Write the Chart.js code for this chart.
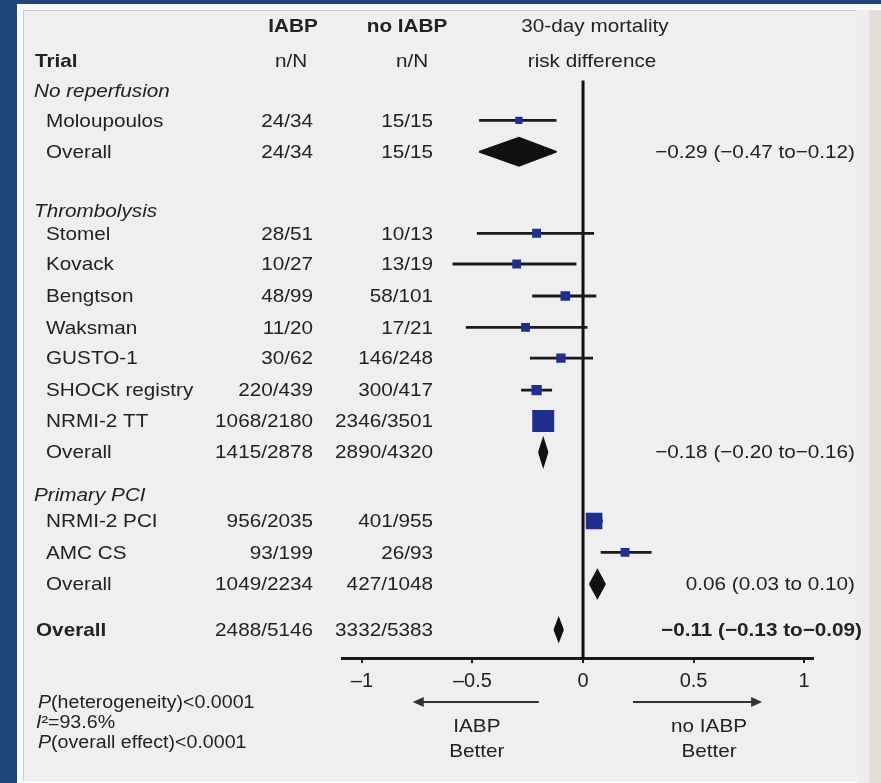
<!DOCTYPE html>
<html>
<head>
<meta charset="utf-8">
<script src="https://cdn.jsdelivr.net/npm/chart.js@4.4.1/dist/chart.umd.min.js"></script>
<style>
  body { margin: 0; background: #1f4677; }
  #frame { position: absolute; left: 17px; top: 4px; width: 864px; height: 779px; background: #fbfbfb; }
  #panel { position: absolute; left: 23px; top: 10px; width: 835px; height: 771px; background: #efefef;
           border-left: 1px solid #c6cbd4; border-top: 1px solid #c6cbd4; box-sizing: border-box; }
  #edge { position: absolute; left: 857px; top: 10px; width: 24px; height: 773px;
          background: linear-gradient(to right, #efedf0 0px, #f1ecef 12px, #e2dfd7 13px, #e2dfd7 24px); }
  #c { position: absolute; left: 0; top: 0; }
</style>
</head>
<body>
<div id="frame"></div>
<div id="panel"></div>
<div id="edge"></div>
<canvas id="c" width="881" height="783"></canvas>
<script>
// rows of the forest plot
const rowLabels = ['No reperfusion', 'Moloupoulos', 'Overall',
  'Thrombolysis', 'Stomel', 'Kovack', 'Bengtson', 'Waksman', 'GUSTO-1', 'SHOCK registry', 'NRMI-2 TT', 'Overall',
  'Primary PCI', 'NRMI-2 PCI', 'AMC CS', 'Overall', 'Overall'];
const rowType = ['group', 'trial', 'sub',
  'group', 'trial', 'trial', 'trial', 'trial', 'trial', 'trial', 'trial', 'sub',
  'group', 'trial', 'trial', 'sub', 'total'];
const iabpEvents = ['', '24/34', '24/34',
  '', '28/51', '10/27', '48/99', '11/20', '30/62', '220/439', '1068/2180', '1415/2878',
  '', '956/2035', '93/199', '1049/2234', '2488/5146'];
const controlEvents = ['', '15/15', '15/15',
  '', '10/13', '13/19', '58/101', '17/21', '146/248', '300/417', '2346/3501', '2890/4320',
  '', '401/955', '26/93', '427/1048', '3332/5383'];
const riskDiff = [null, -0.29, -0.29,
  null, -0.21, -0.30, -0.08, -0.26, -0.10, -0.21, -0.18, -0.18,
  null, 0.05, 0.19, 0.065, -0.11];
const ciLow = [null, -0.47, -0.47,
  null, -0.48, -0.59, -0.23, -0.53, -0.24, -0.28, -0.20, -0.20,
  null, 0.02, 0.08, 0.03, -0.13];
const ciHigh = [null, -0.12, -0.12,
  null, 0.05, -0.03, 0.06, 0.02, 0.045, -0.14, -0.15, -0.16,
  null, 0.09, 0.31, 0.10, -0.09];
const weights = [null, 1.1, null,
  null, 1.7, 1.7, 2.0, 1.7, 1.9, 2.3, 10.5, null,
  null, 6.0, 1.7, null, null];
const effectText = ['', '', '\u22120.29 (\u22120.47 to\u22120.12)',
  '', '', '', '', '', '', '', '', '\u22120.18 (\u22120.20 to\u22120.16)',
  '', '', '', '0.06 (0.03 to 0.10)', '\u22120.11 (\u22120.13 to\u22120.09)'];
const tickValues = [-1, -0.5, 0, 0.5, 1];
const tickLabels = ['\u20131', '\u20130.5', '0', '0.5', '1'];

// layout: vertical slot of each row (row units)
const rowY = [0.05, 1, 2, 3.87, 4.6, 5.58, 6.6, 7.6, 8.58, 9.6, 10.58, 11.58, 12.94, 13.77, 14.77, 15.78, 17.24];

const FONT = '"Liberation Sans", Arial, sans-serif';
const INK = '#222';
const STRETCH = 1.09;

const trialIdx = rowType.map((t, i) => t === 'trial' ? i : -1).filter(i => i >= 0);
const summaryIdx = rowType.map((t, i) => (t === 'sub' || t === 'total') ? i : -1).filter(i => i >= 0);

const datasets = [];

// study boxes
datasets.push({
  data: trialIdx.map(i => ({x: riskDiff[i], y: rowY[i]})),
  pointStyle: 'rect',
  pointRadius: trialIdx.map(i => 4.8 * Math.sqrt(weights[i])),
  backgroundColor: '#202f8e',
  borderWidth: 0,
  order: 0
});

// confidence interval whiskers
const whiskers = [];
trialIdx.forEach(i => {
  whiskers.push({x: ciLow[i], y: rowY[i]}, {x: ciHigh[i], y: rowY[i]}, {x: NaN, y: NaN});
});
datasets.push({
  data: whiskers,
  showLine: true,
  spanGaps: false,
  borderColor: '#1a1a1a',
  borderWidth: 2.8,
  pointRadius: 0,
  order: 1
});

// pooled diamonds (upper half filled to lower half)
summaryIdx.forEach(i => {
  const h = rowType[i] === 'total' ? 0.37 : 0.45;
  const r = rowY[i];
  datasets.push({
    data: [{x: ciLow[i], y: r}, {x: riskDiff[i], y: r - h}, {x: ciHigh[i], y: r}],
    showLine: true, fill: '+1', backgroundColor: '#111', borderColor: '#111', borderWidth: 1.5,
    pointRadius: 0, order: 2
  });
  datasets.push({
    data: [{x: ciLow[i], y: r}, {x: riskDiff[i], y: r + h}, {x: ciHigh[i], y: r}],
    showLine: true, fill: false, borderColor: '#111', borderWidth: 1.5,
    pointRadius: 0, order: 2
  });
});

// line of no effect
datasets.push({
  data: [{x: 0, y: -0.27}, {x: 0, y: 18.17}],
  showLine: true,
  borderColor: '#111',
  borderWidth: 3,
  pointRadius: 0,
  order: 3
});

function put(ctx, str, x, y, align, font) {
  ctx.save();
  ctx.font = font;
  ctx.textAlign = align;
  ctx.textBaseline = 'middle';
  ctx.fillStyle = INK;
  ctx.translate(x, y);
  ctx.scale(STRETCH, 1);
  ctx.fillText(str, 0, 0);
  ctx.restore();
}

function putRuns(ctx, runs, x, y, size) {
  let cx = x;
  runs.forEach(run => {
    const font = (run.italic ? 'italic ' : '') + size + 'px ' + FONT;
    put(ctx, run.t, cx, y, 'left', font);
    ctx.font = font;
    cx += ctx.measureText(run.t).width * STRETCH;
  });
}

function arrow(ctx, x1, x2, y) {
  const dir = Math.sign(x2 - x1);
  ctx.save();
  ctx.strokeStyle = '#333';
  ctx.fillStyle = '#333';
  ctx.lineWidth = 2;
  ctx.beginPath();
  ctx.moveTo(x1, y);
  ctx.lineTo(x2 - dir * 8, y);
  ctx.stroke();
  ctx.beginPath();
  ctx.moveTo(x2, y);
  ctx.lineTo(x2 - dir * 11, y - 5);
  ctx.lineTo(x2 - dir * 11, y + 5);
  ctx.closePath();
  ctx.fill();
  ctx.restore();
}

const tablePlugin = {
  id: 'table',
  afterDraw(chart) {
    const ctx = chart.ctx;
    const xs = chart.scales.x;
    const ys = chart.scales.y;
    const reg = '19px ' + FONT;
    const bold = 'bold 19px ' + FONT;
    const ital = 'italic 19px ' + FONT;

    // headers
    put(ctx, 'IABP', 293, 27, 'center', bold);
    put(ctx, 'no IABP', 407, 27, 'center', bold);
    put(ctx, '30-day mortality', 595, 27, 'center', reg);
    put(ctx, 'Trial', 35, 62, 'left', bold);
    put(ctx, 'n/N', 291, 62, 'center', reg);
    put(ctx, 'n/N', 412, 62, 'center', reg);
    put(ctx, 'risk difference', 592, 62, 'center', reg);

    rowLabels.forEach((lab, i) => {
      const y = ys.getPixelForValue(rowY[i]) + 1;
      const t = rowType[i];
      if (t === 'group') {
        put(ctx, lab, 34, y, 'left', ital);
        return;
      }
      const f = t === 'total' ? bold : reg;
      put(ctx, lab, t === 'total' ? 36 : 46, y, 'left', f);
      put(ctx, iabpEvents[i], 313, y, 'right', reg);
      put(ctx, controlEvents[i], 433, y, 'right', reg);
      if (effectText[i]) {
        put(ctx, effectText[i], t === 'total' ? 862 : 855, y, 'right', f);
      }
    });

    // favour arrows under the axis
    const b = chart.chartArea.bottom;
    arrow(ctx, xs.getPixelForValue(-0.2), xs.getPixelForValue(-0.77), b + 43);
    arrow(ctx, xs.getPixelForValue(0.226), xs.getPixelForValue(0.81), b + 43);
    put(ctx, 'IABP', xs.getPixelForValue(-0.48), b + 68, 'center', reg);
    put(ctx, 'Better', xs.getPixelForValue(-0.48), b + 93, 'center', reg);
    put(ctx, 'no IABP', xs.getPixelForValue(0.57), b + 68, 'center', reg);
    put(ctx, 'Better', xs.getPixelForValue(0.57), b + 93, 'center', reg);

    // test statistics
    putRuns(ctx, [{t: 'P', italic: true}, {t: '(heterogeneity)<0.0001'}], 38, 703, 18);
    putRuns(ctx, [{t: 'I', italic: true}, {t: '\u00b2=93.6%'}], 36, 723, 18);
    putRuns(ctx, [{t: 'P', italic: true}, {t: '(overall effect)<0.0001'}], 38, 743, 18);
  }
};

new Chart(document.getElementById('c'), {
  type: 'scatter',
  data: { datasets: datasets },
  options: {
    responsive: false,
    animation: false,
    layout: { padding: { left: 342, right: 68, top: 15, bottom: 94 } },
    plugins: { legend: { display: false }, tooltip: { enabled: false } },
    scales: {
      x: {
        type: 'linear',
        min: -1.09,
        max: 1.04,
        afterBuildTicks: s => { s.ticks = tickValues.map(v => ({value: v})); },
        afterFit: s => { s.height = 30; },
        border: { display: true, color: '#1a1a1a', width: 3 },
        grid: { drawOnChartArea: false, drawTicks: true, tickLength: 4, color: '#1a1a1a', lineWidth: 2 },
        ticks: {
          callback: v => tickLabels[tickValues.indexOf(v)],
          color: INK,
          font: { family: FONT, size: 20 },
          padding: 6,
          autoSkip: false,
          maxRotation: 0
        }
      },
      y: { type: 'linear', display: false, reverse: true, min: -2.34, max: 18.17 }
    }
  },
  plugins: [tablePlugin]
});
</script>
</body>
</html>
